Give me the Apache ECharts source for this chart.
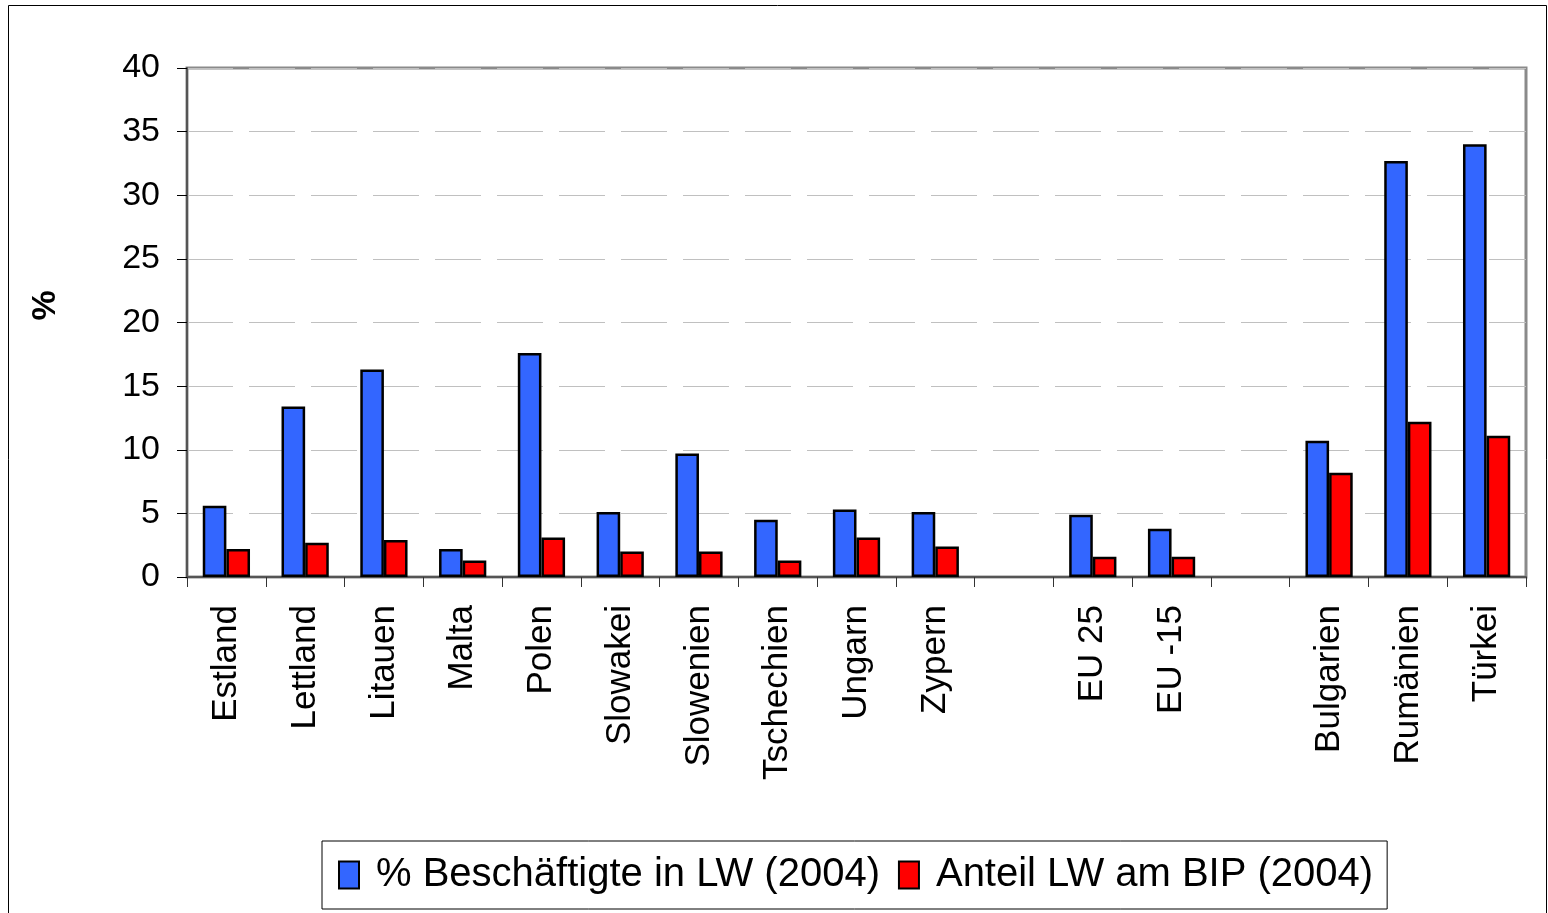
<!doctype html>
<html>
<head>
    <meta charset="utf-8">
    <title>Landwirtschaft</title>
    <style>
        html, body { margin: 0; padding: 0; background: #fff; }
        #chart { width: 1548px; height: 913px; }
    </style>
</head>
<body>
<div id="chart"></div>
<script src="https://cdn.jsdelivr.net/npm/echarts@6/dist/echarts.min.js"></script>
<script>
    // Länder (leere Kategorien = Lücken im Diagramm)
    var laender = ['Estland', 'Lettland', 'Litauen', 'Malta', 'Polen', 'Slowakei', 'Slowenien',
        'Tschechien', 'Ungarn', 'Zypern', '', 'EU 25', 'EU -15', ' ', 'Bulgarien', 'Rumänien', 'Türkei'];
    // % Beschäftigte in LW (2004)
    var beschaeftigte = [5.6, 13.4, 16.3, 2.2, 17.6, 5.1, 9.7, 4.5, 5.3, 5.1, '-', 4.9, 3.8, '-', 10.7, 32.7, 34.0];
    // Anteil LW am BIP (2004)
    var anteilBip = [2.2, 2.7, 2.9, 1.3, 3.1, 2.0, 2.0, 1.3, 3.1, 2.4, '-', 1.6, 1.6, '-', 8.2, 12.2, 11.1];
    var yTicks = [0, 40, 5];

    var myChart = echarts.init(document.getElementById('chart'));
    var font = 'Liberation Sans, Arial, sans-serif';
    var option = {
        animation: false,
        backgroundColor: '#fff',
        textStyle: { fontFamily: font },
        graphic: [{
            type: 'rect',
            shape: { x: 8.5, y: 5.5, width: 1538, height: 930 },
            style: { fill: null, stroke: '#000', lineWidth: 1 },
            silent: true
        }],
        grid: {
            left: 187, top: 68, right: 22, bottom: 336,
            show: true, borderColor: '#8a8a8a', borderWidth: 3
        },
        legend: {
            bottom: 4,
            left: 322,
            icon: 'rect',
            itemWidth: 20,
            itemHeight: 27,
            itemGap: 18,
            padding: [14, 14, 14, 16],
            borderColor: '#000',
            borderWidth: 1,
            textStyle: { fontSize: 40, color: '#000', fontFamily: font, padding: [0, 0, 0, 12] },
            data: ['% Beschäftigte in LW (2004)', 'Anteil LW am BIP (2004)']
        },
        xAxis: {
            type: 'category',
            data: laender,
            axisLine: { lineStyle: { color: '#555', width: 2 } },
            axisTick: { show: true, length: 10, lineStyle: { color: '#333' } },
            axisLabel: {
                rotate: 90, fontSize: 35, color: '#000', margin: 28,
                interval: 0, fontFamily: font
            }
        },
        yAxis: {
            type: 'value',
            min: yTicks[0], max: yTicks[1], interval: yTicks[2],
            name: '%',
            nameLocation: 'middle',
            nameGap: 124,
            nameRotate: 90,
            nameTextStyle: {
                fontSize: 34, fontWeight: 'bold', color: '#000', fontFamily: font,
                padding: [0, 0, 0, 34]
            },
            axisLine: { show: true, lineStyle: { color: '#555', width: 2 } },
            axisTick: { show: true, length: 10, lineStyle: { color: '#000' } },
            axisLabel: { fontSize: 34, color: '#000', margin: 27, fontFamily: font },
            splitLine: { lineStyle: { color: '#c0c0c0', width: 1, type: [46, 16] } }
        },
        series: [
            {
                name: '% Beschäftigte in LW (2004)',
                type: 'bar',
                barGap: '0%',
                barCategoryGap: '40%',
                itemStyle: { color: '#3366ff', borderColor: '#000', borderWidth: 2.5 },
                data: beschaeftigte
            },
            {
                name: 'Anteil LW am BIP (2004)',
                type: 'bar',
                itemStyle: { color: '#ff0000', borderColor: '#000', borderWidth: 2.5 },
                data: anteilBip
            }
        ]
    };
    myChart.setOption(option);
</script>
</body>
</html>
